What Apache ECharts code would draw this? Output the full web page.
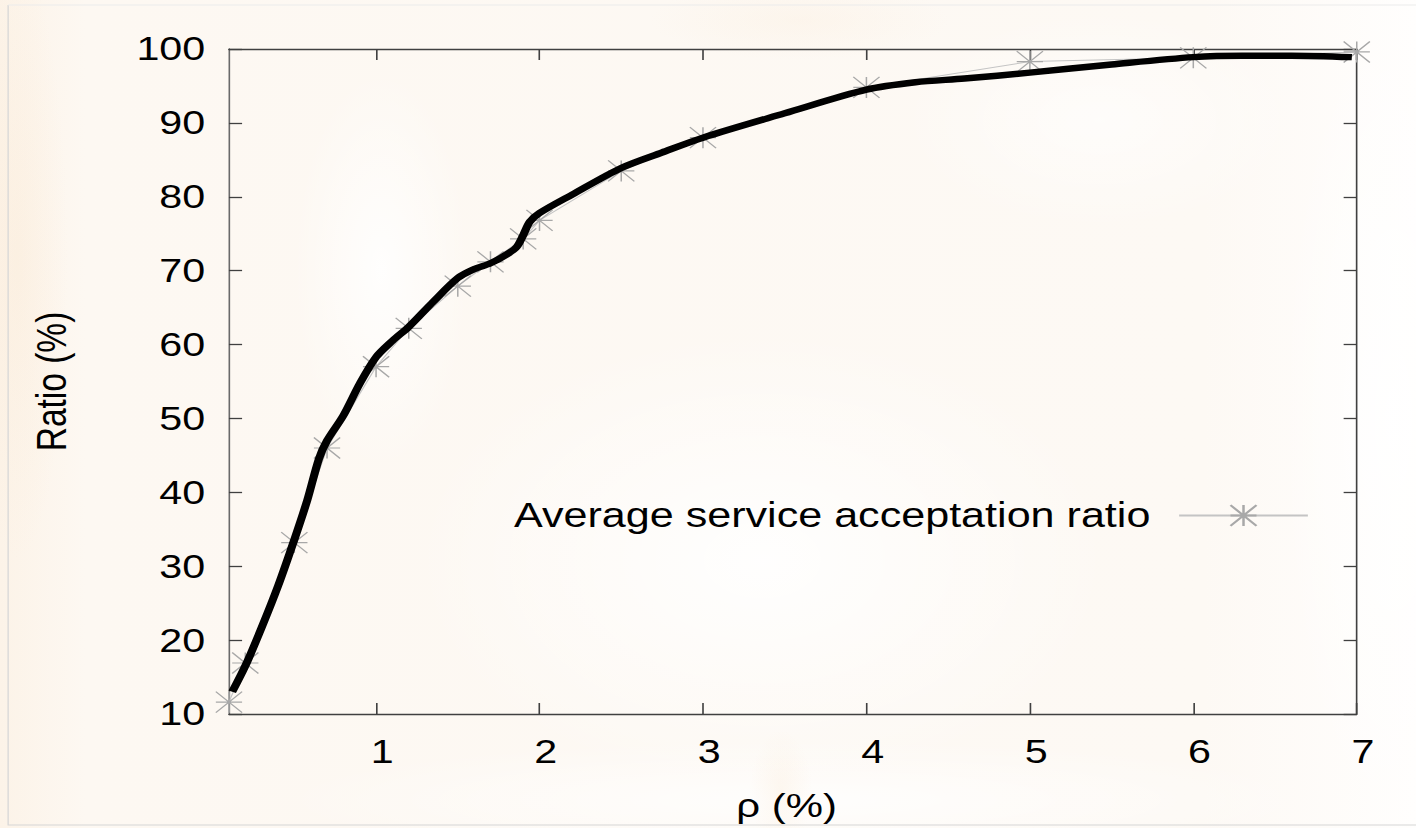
<!DOCTYPE html>
<html>
<head>
<meta charset="utf-8">
<style>
  html, body { margin: 0; padding: 0; width: 1416px; height: 828px; overflow: hidden; background: #ffffff; }
  /* the figure is laid out narrow and widened to the page, like the original plot */
  #chart { width: 1133px; height: 828px; transform: scaleX(1.24978); transform-origin: 0 0; }
</style>
<script src="https://cdn.jsdelivr.net/npm/echarts@6/dist/echarts.min.js"></script>
</head>
<body>
<div id="chart"></div>
<script>
// measured acceptance ratio (%) against rho (%)
const rho = [0.1, 0.2, 0.5, 0.7, 1.0, 1.2, 1.5, 1.7, 1.9, 2.0, 2.5, 3, 4, 5, 6, 7];
const acceptRatio = [11.6, 16.9, 33.2, 46.0, 57.0, 62.2, 67.9, 71.2, 74.3, 76.8, 83.5, 88.0, 94.8, 98.3, 98.8, 99.6];

// smoothed trend drawn as the heavy black curve
const trendRho = [0.12, 0.2, 0.3, 0.4, 0.5, 0.58, 0.65, 0.7, 0.8, 0.9, 1.0, 1.1, 1.2, 1.35, 1.5, 1.6, 1.7, 1.8, 1.86, 1.9, 1.94, 2.0, 2.2, 2.5, 2.75, 3.0, 3.5, 4.0, 4.3, 4.6, 5.0, 5.5, 6.0, 6.3, 6.6, 6.97];
const trendRatio = [13.0, 16.5, 21.7, 27.3, 33.6, 39.0, 44.5, 47.0, 50.4, 54.7, 58.3, 60.5, 62.4, 65.8, 69.0, 70.2, 71.0, 72.2, 73.2, 74.8, 76.6, 77.8, 80.3, 83.9, 86.0, 88.0, 91.3, 94.5, 95.5, 96.0, 96.8, 97.9, 98.9, 99.1, 99.1, 98.9];

const xTicks = [1, 2, 3, 4, 5, 6, 7];
const seriesName = 'Average service acceptation ratio';
const xName = 'ρ (%)';
const yName = 'Ratio (%)';

const FONT = "'Liberation Sans', Arial, Helvetica, sans-serif";
const AXIS_COLOR = '#404040';

// gnuplot-style asterisk point
const STAR = 'path://M0 0L20 20M20 0L0 20M10 0L10 20M0 10L20 10';

function pairs(xs, ys) { return xs.map((x, i) => [x, ys[i]]); }

function softBlob(cx, cy, rx, ry, rgb, a) {
  return {
    type: 'ellipse', silent: true, z: -100,
    shape: { cx: cx, cy: cy, rx: rx, ry: ry },
    style: {
      fill: {
        type: 'radial', x: 0.5, y: 0.5, r: 0.5,
        colorStops: [
          { offset: 0, color: 'rgba(' + rgb + ',' + a + ')' },
          { offset: 1, color: 'rgba(' + rgb + ',0)' }
        ]
      }
    }
  };
}

const chart = echarts.init(document.getElementById('chart'), null, { renderer: 'svg' });

chart.setOption({
  animation: false,
  backgroundColor: {
    type: 'linear', x: 0, y: 0, x2: 1, y2: 0,
    colorStops: [
      { offset: 0, color: '#fcf3e8' },
      { offset: 0.06, color: '#fdf8f2' },
      { offset: 0.85, color: '#fdf9f4' },
      { offset: 1, color: '#fffefd' }
    ]
  },
  graphic: {
    elements: [
      softBlob(610, 560, 280, 230, '255,255,255', 0.9),
      softBlob(305, 270, 70, 200, '255,255,255', 0.85),
      softBlob(1115, 420, 90, 430, '255,255,255', 0.9),
      softBlob(880, 120, 160, 110, '255,255,255', 0.6),
      softBlob(640, 800, 420, 60, '255,255,255', 0.8),
      softBlob(14, 260, 40, 300, '250,232,210', 0.35),
      softBlob(625, 790, 25, 60, '251,236,218', 0.35),
      softBlob(640, 20, 120, 40, '251,238,222', 0.35),
      {
        type: 'polyline', silent: true, z: -50,
        shape: { points: [[6.5, 5], [6.5, 825], [1133, 825]] },
        style: { stroke: '#d6d6d6', lineWidth: 1, fill: null }
      },
      {
        type: 'line', silent: true, z: -50,
        shape: { x1: 6.5, y1: 5, x2: 1133, y2: 5 },
        style: { stroke: '#ececec', lineWidth: 1 }
      }
    ]
  },
  grid: { left: 183.2, top: 49, width: 902.4, height: 668, containLabel: false },
  legend: {
    data: [seriesName],
    left: 406,
    top: 493,
    align: 'right',
    itemWidth: 103,
    itemHeight: 26,
    selectedMode: false,
    textStyle: { fontFamily: FONT, fontSize: 34.5, color: '#000', padding: [0, 18, 0, 0] }
  },
  xAxis: [
    {
      type: 'value', position: 'bottom', min: 0.1, max: 7,
      name: xName, nameLocation: 'middle', nameGap: 75,
      nameTextStyle: { fontFamily: FONT, fontSize: 33.5, color: '#000', padding: [0, 10, 0, 0] },
      axisLine: { show: true, lineStyle: { color: AXIS_COLOR, width: 1.3 } },
      axisTick: { show: true, inside: true, length: 11, customValues: xTicks, lineStyle: { color: AXIS_COLOR, width: 1.3 } },
      axisLabel: { show: true, customValues: xTicks, margin: 21, fontFamily: FONT, fontSize: 33, color: '#000', padding: [0, 0, 0, 10] },
      splitLine: { show: false }
    },
    {
      type: 'value', position: 'top', min: 0.1, max: 7,
      axisLine: { show: true, lineStyle: { color: AXIS_COLOR, width: 1.3 } },
      axisTick: { show: true, inside: true, length: 11, customValues: xTicks, lineStyle: { color: AXIS_COLOR, width: 1.3 } },
      axisLabel: { show: false },
      splitLine: { show: false }
    }
  ],
  yAxis: [
    {
      type: 'value', position: 'left', min: 10, max: 100, interval: 10,
      name: yName, nameLocation: 'middle', nameGap: 125,
      nameTextStyle: { fontFamily: FONT, fontSize: 33.5, color: '#000' },
      axisLine: { show: true, lineStyle: { color: '#6a6a6a', width: 1.3 } },
      axisTick: { show: true, inside: true, length: 10.5, lineStyle: { color: AXIS_COLOR, width: 1.3 } },
      axisLabel: { show: true, margin: 19, fontFamily: FONT, fontSize: 33, color: '#000' },
      splitLine: { show: false }
    },
    {
      type: 'value', position: 'right', min: 10, max: 100, interval: 10,
      axisLine: { show: true, lineStyle: { color: AXIS_COLOR, width: 1.3 } },
      axisTick: { show: true, inside: true, length: 10.5, lineStyle: { color: AXIS_COLOR, width: 1.3 } },
      axisLabel: { show: false },
      splitLine: { show: false }
    }
  ],
  series: [
    {
      name: seriesName,
      type: 'line',
      xAxisIndex: 0, yAxisIndex: 0,
      data: pairs(rho, acceptRatio),
      symbol: STAR,
      symbolSize: 21,
      showSymbol: true,
      showAllSymbol: true,
      clip: false,
      lineStyle: { color: '#c4c4c4', width: 1 },
      itemStyle: { color: '#a8a8a8', borderColor: '#a8a8a8', borderWidth: 1.2 },
      emphasis: { disabled: true },
      z: 2
    },
    {
      name: 'trend',
      type: 'line',
      xAxisIndex: 0, yAxisIndex: 0,
      data: pairs(trendRho, trendRatio),
      smooth: 0.3,
      showSymbol: false,
      symbol: 'none',
      lineStyle: { color: '#000000', width: 6.5, cap: 'butt', join: 'round' },
      emphasis: { disabled: true },
      z: 5
    }
  ]
});
</script>
</body>
</html>
